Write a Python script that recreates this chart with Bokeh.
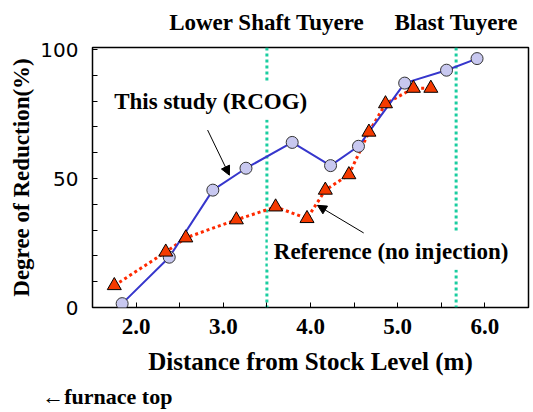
from bokeh.plotting import figure
from bokeh.models import Range1d, FixedTicker, Span, Label, Arrow, NormalHead, LinearAxis
from bokeh.embed import file_html
from bokeh.resources import INLINE

# ---- data ----
rcog_x = [1.84, 2.38, 2.88, 3.26, 3.79, 4.23, 4.55, 5.08, 5.56, 5.91]
rcog_y = [1.5, 19.5, 45.5, 54.0, 64.0, 55.0, 62.5, 87.0, 92.0, 96.5]
ref_x = [1.75, 2.34, 2.57, 3.15, 3.60, 3.96, 4.17, 4.44, 4.67, 4.86, 5.18, 5.38]
ref_y = [8.5, 21.5, 27.0, 34.0, 39.0, 34.5, 45.5, 51.5, 68.0, 79.0, 85.0, 85.0]
tuyere_x = [3.5, 5.67]
tuyere_names = ["Lower Shaft Tuyere", "Blast Tuyere"]
x_major = [2, 3, 4, 5, 6]
x_minor = [2.5, 3.5, 4.5, 5.5]
x_tick_labels = ["2.0", "3.0", "4.0", "5.0", "6.0"]
y_major = [0, 50, 100]
y_minor = [10, 20, 30, 40, 60, 70, 80, 90]
furnace_note = "\u2190furnace top"

SERIF = "Liberation Serif"
FURNACE_NOTE_X = 1.67

p = figure(width=530, height=412, x_range=Range1d(1.5, 6.5), y_range=Range1d(0, 100.8),
           output_backend="svg", toolbar_location=None,
           min_border_left=92, min_border_right=2, min_border_top=47, min_border_bottom=105)
p.background_fill_color = "white"
p.border_fill_color = "white"
p.outline_line_color = "black"
p.outline_line_width = 1.5
p.xgrid.visible = False
p.ygrid.visible = False

# tuyere positions
for tx in tuyere_x:
    p.add_layout(Span(location=tx, dimension="height", line_color="#1ACDA0",
                      line_width=3, line_dash="3 3", level="underlay"))

# series
p.line(ref_x, ref_y, line_color="#FF2A00", line_width=3, line_dash="3 3")
p.line(rcog_x, rcog_y, line_color="#3636CC", line_width=2)
p.scatter(rcog_x, rcog_y, marker="circle", size=12, fill_color="#C8C8F0",
          line_color="#333333", line_width=1)
p.scatter(ref_x, ref_y, marker="triangle", size=14, fill_color="#F53A00",
          line_color="black", line_width=1)


def bare(ax):
    ax.axis_line_color = None
    ax.major_tick_line_color = None
    ax.minor_tick_line_color = None
    ax.major_tick_in = 0
    ax.major_tick_out = 0
    ax.minor_tick_in = 0
    ax.minor_tick_out = 0


# axes
xa = p.xaxis[0]
xa.ticker = FixedTicker(ticks=x_major, minor_ticks=x_minor)
xa.major_label_overrides = {v: s for v, s in zip(x_major, x_tick_labels)}
xa.axis_line_color = None
xa.major_tick_in = 5
xa.major_tick_out = 0
xa.minor_tick_in = 5
xa.minor_tick_out = 0
xa.major_tick_line_color = "black"
xa.minor_tick_line_color = "black"
xa.major_label_text_font = SERIF
xa.major_label_text_font_style = "bold"
xa.major_label_text_font_size = "23px"
xa.major_label_text_color = "black"
xa.major_label_standoff = 11
xa.axis_label = "Distance from Stock Level (m)"
xa.axis_label_text_font = SERIF
xa.axis_label_text_font_style = "bold"
xa.axis_label_text_font_size = "25px"
xa.axis_label_text_color = "black"
xa.axis_label_standoff = 11

ya = p.yaxis[0]
ya.ticker = FixedTicker(ticks=y_major, minor_ticks=y_minor)
ya.axis_line_color = None
ya.major_tick_in = 5
ya.major_tick_out = 0
ya.minor_tick_in = 5
ya.minor_tick_out = 0
ya.major_tick_line_color = "black"
ya.minor_tick_line_color = "black"
ya.major_label_text_font = "DejaVu Sans"
ya.major_label_text_font_size = "20px"
ya.major_label_text_color = "black"
ya.major_label_standoff = 14
ya.axis_label = "Degree of Reduction(%)"
ya.axis_label_text_font = SERIF
ya.axis_label_text_font_style = "bold"
ya.axis_label_text_font_size = "23px"
ya.axis_label_text_color = "black"
ya.axis_label_standoff = 3

# tuyere names above the frame
top = LinearAxis(ticker=FixedTicker(ticks=tuyere_x, minor_ticks=[]))
top.major_label_overrides = {v: s for v, s in zip(tuyere_x, tuyere_names)}
bare(top)
top.major_label_text_font = SERIF
top.major_label_text_font_style = "bold"
top.major_label_text_font_size = "23px"
top.major_label_text_color = "black"
top.major_label_standoff = 13
p.add_layout(top, "above")

# furnace-top note under the x axis
note = LinearAxis(ticker=FixedTicker(ticks=[FURNACE_NOTE_X], minor_ticks=[]))
note.major_label_overrides = {FURNACE_NOTE_X: furnace_note}
bare(note)
note.major_label_text_font = SERIF
note.major_label_text_font_style = "bold"
note.major_label_text_font_size = "22px"
note.major_label_text_color = "black"
note.major_label_standoff = 6
p.add_layout(note, "below")


def lab(x, y, text):
    p.add_layout(Label(x=x, y=y, text=text, text_font=SERIF, text_font_style="bold",
                       text_font_size="23px", text_color="black", text_align="left",
                       text_baseline="middle", background_fill_color="white", padding=6))


lab(1.68, 80, "This study (RCOG)")
lab(3.51, 21.8, "Reference (no injection)")

p.add_layout(Arrow(x_start=2.82, y_start=68.8, x_end=3.07, y_end=51.3, line_width=1,
                   line_color="black",
                   end=NormalHead(size=9, fill_color="black", line_color="black")))
p.add_layout(Arrow(x_start=4.61, y_start=28.9, x_end=4.08, y_end=39.6, line_width=1,
                   line_color="black",
                   end=NormalHead(size=9, fill_color="black", line_color="black")))

open("out.html", "w").write(file_html(p, INLINE))
